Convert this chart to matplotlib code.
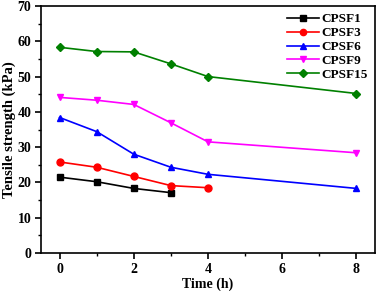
import matplotlib
matplotlib.use("Agg")
import matplotlib.pyplot as plt
from matplotlib.ticker import MultipleLocator

plt.rcParams["font.family"] = ["Liberation Serif", "DejaVu Serif"]
plt.rcParams["font.weight"] = "bold"

time_short = [0, 1, 2, 3]
time_mid = [0, 1, 2, 3, 4]
time_long = [0, 1, 2, 3, 4, 8]

cpsf1 = [21.5, 20.2, 18.3, 17.1]
cpsf3 = [25.8, 24.3, 21.7, 19.1, 18.5]
cpsf6 = [38.4, 34.4, 28.0, 24.3, 22.3, 18.3]
cpsf9 = [44.1, 43.3, 42.1, 36.9, 31.5, 28.4]
cpsf15 = [58.3, 57.1, 57.0, 53.6, 50.0, 45.2]

series = [
    ("CPSF1", time_short, cpsf1, "black", "s"),
    ("CPSF3", time_mid, cpsf3, "red", "o"),
    ("CPSF6", time_long, cpsf6, "blue", "^"),
    ("CPSF9", time_long, cpsf9, "magenta", "v"),
    ("CPSF15", time_long, cpsf15, "green", "D"),
]

fig = plt.figure(figsize=(3.78, 2.91), dpi=100)
ax = fig.add_axes([41 / 378, 1 - 253 / 291, 334 / 378, 247 / 291])

for label, x, y, color, marker in series:
    ms = 5 if marker != "D" else 4.5
    ax.plot(x, y, color=color, marker=marker, markersize=ms, linewidth=1.2, label=label)

ax.set_xlim(-0.5, 8.5)
ax.set_ylim(0, 70)
ax.xaxis.set_major_locator(MultipleLocator(2))
ax.xaxis.set_minor_locator(MultipleLocator(1))
ax.yaxis.set_major_locator(MultipleLocator(10))
ax.yaxis.set_minor_locator(MultipleLocator(5))
ax.tick_params(which="major", direction="out", length=4, width=1.2, labelsize=10, pad=3)
ax.tick_params(which="minor", direction="out", length=2.5, width=1.0)
for lab in ax.get_xticklabels() + ax.get_yticklabels():
    lab.set_fontweight("bold")
for s in ax.spines.values():
    s.set_linewidth(1.2)

ax.set_xlabel("Time (h)", fontsize=10, fontweight="bold", labelpad=1)
ax.set_ylabel("Tensile strength (kPa)", fontsize=10.5, fontweight="bold", labelpad=1)

leg = ax.legend(loc="upper right", frameon=False, fontsize=9.5, handlelength=2.4,
                handletextpad=0.2, labelspacing=0.12, borderaxespad=0.15,
                markerscale=0.9)
for t in leg.get_texts():
    t.set_fontweight("bold")

fig.savefig("out.png", dpi=100)
